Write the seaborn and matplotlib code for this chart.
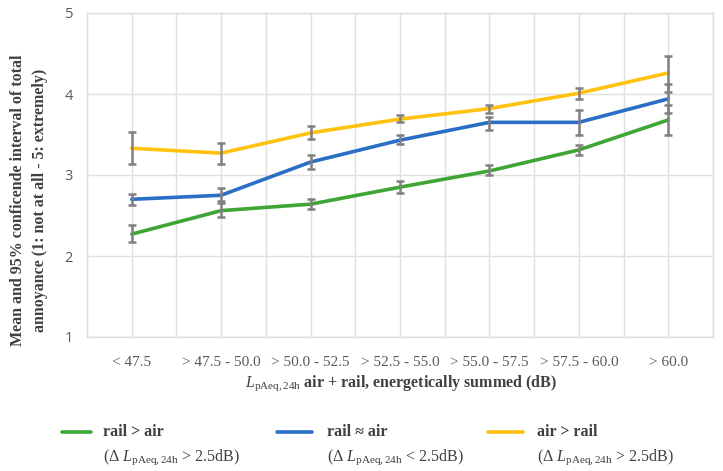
import numpy as np
import pandas as pd
import matplotlib
matplotlib.use("Agg")
import matplotlib.pyplot as plt
import seaborn as sns
from matplotlib.lines import Line2D
from matplotlib.ticker import MultipleLocator

# ---------------- data ----------------
categories = ["< 47.5", "> 47.5 - 50.0", "> 50.0 - 52.5", "> 52.5 - 55.0",
              "> 55.0 - 57.5", "> 57.5 - 60.0", "> 60.0"]

rail_air_mean = [2.27, 2.56, 2.64, 2.85, 3.05, 3.31, 3.68]
rail_air_low = [2.17, 2.48, 2.58, 2.78, 3.00, 3.25, 3.50]
rail_air_high = [2.38, 2.65, 2.70, 2.92, 3.12, 3.37, 3.86]

equal_mean = [2.70, 2.75, 3.16, 3.43, 3.65, 3.65, 3.94]
equal_low = [2.63, 2.68, 3.07, 3.38, 3.56, 3.50, 3.77]
equal_high = [2.77, 2.84, 3.25, 3.49, 3.71, 3.80, 4.12]

air_rail_mean = [3.33, 3.27, 3.52, 3.69, 3.82, 4.01, 4.26]
air_rail_low = [3.13, 3.14, 3.44, 3.65, 3.77, 3.94, 4.03]
air_rail_high = [3.53, 3.39, 3.60, 3.74, 3.87, 4.08, 4.47]

groups = ["rail > air", "rail ≈ air", "air > rail"]
subtitles = [r"($\Delta$ $L_{\mathrm{pAeq,24h}}$ > 2.5dB)",
             r"($\Delta$ $L_{\mathrm{pAeq,24h}}$ < 2.5dB)",
             r"($\Delta$ $L_{\mathrm{pAeq,24h}}$ > 2.5dB)"]
colors = ["#3fa535", "#2a6ec6", "#ffc20e"]

means = [rail_air_mean, equal_mean, air_rail_mean]
lows = [rail_air_low, equal_low, air_rail_low]
highs = [rail_air_high, equal_high, air_rail_high]

rows = []
for g, m, lo, hi in zip(groups, means, lows, highs):
    for i, c in enumerate(categories):
        rows.append({"group": g, "pos": i, "cat": c, "mean": m[i], "low": lo[i], "high": hi[i]})
df = pd.DataFrame(rows)

# ---------------- style ----------------
sns.set_theme(style="white")
plt.rcParams["font.family"] = ["Liberation Serif", "DejaVu Serif"]
plt.rcParams["mathtext.fontset"] = "custom"
plt.rcParams["mathtext.rm"] = "Liberation Serif"
plt.rcParams["mathtext.it"] = "Liberation Serif:italic"
plt.rcParams["mathtext.bf"] = "Liberation Serif:bold"

W, H = 723, 471
fig = plt.figure(figsize=(W / 100, H / 100), dpi=100)
ax = fig.add_axes([87 / W, 1 - 337 / H, (713 - 87) / W, (337 - 13) / H])

sns.lineplot(data=df, x="pos", y="mean", hue="group", hue_order=groups,
             palette=dict(zip(groups, colors)), linewidth=2.6, ax=ax,
             legend=False, sort=False, zorder=3)

for g in groups:
    sub = df[df["group"] == g]
    ax.errorbar(sub["pos"], sub["mean"],
                yerr=[sub["mean"] - sub["low"], sub["high"] - sub["mean"]],
                fmt="none", ecolor="#808080", elinewidth=1.8, capsize=3.2,
                capthick=1.8, zorder=4)

ax.set_xlim(-0.5, len(categories) - 0.5)
ax.set_ylim(1, 5)
ax.set_yticks([1, 2, 3, 4, 5])
ax.set_xticks(range(len(categories)))
ax.set_xticklabels(categories)
ax.xaxis.set_minor_locator(MultipleLocator(0.5))
ax.grid(True, which="both", axis="x", color="#e0e0e0", linewidth=1)
ax.grid(True, which="major", axis="y", color="#e0e0e0", linewidth=1)
ax.set_axisbelow(True)
for s in ax.spines.values():
    s.set_color("#dcdcdc")
    s.set_linewidth(1)
ax.tick_params(axis="both", which="both", length=0)
ax.tick_params(axis="x", pad=14, labelsize=11, labelcolor="#595959")
for lab in ax.get_yticklabels():
    lab.set_fontfamily(["Open Sans", "DejaVu Sans"])
    lab.set_fontsize(10.5)
    lab.set_color("#595959")
ax.tick_params(axis="y", pad=10)
ax.set_xlabel("")
ax.set_ylabel("")

# axis titles
fig.text(401 / W, 1 - 383 / H,
         r"$L_{\mathrm{pAeq,24h}}$ air + rail, energetically summed (dB)",
         ha="center", va="center", fontsize=11.5, fontweight="bold", color="#404040")
fig.text(29 / W, 1 - 200 / H,
         "Mean and 95% conficende interval of total\nannoyance (1: not at all - 5: extremely)",
         ha="center", va="center", rotation=90, fontsize=11.5, fontweight="bold",
         color="#404040", linespacing=1.45, multialignment="center")

# legend
handle_x = [(62, 91), (277, 312), (488, 523)]
text_x = [103, 327, 537]
for (x0, x1), tx, g, st, c in zip(handle_x, text_x, groups, subtitles, colors):
    fig.add_artist(Line2D([x0 / W, x1 / W], [1 - 432 / H, 1 - 432 / H],
                          transform=fig.transFigure, color=c, linewidth=2.6))
    fig.text(tx / W, 1 - 432 / H, g, ha="left", va="center", fontsize=11.5,
             fontweight="bold", color="#404040")
    fig.text(tx / W, 1 - 457 / H, st, ha="left", va="center", fontsize=11.5,
             color="#404040")

fig.savefig("out.png", dpi=100)
